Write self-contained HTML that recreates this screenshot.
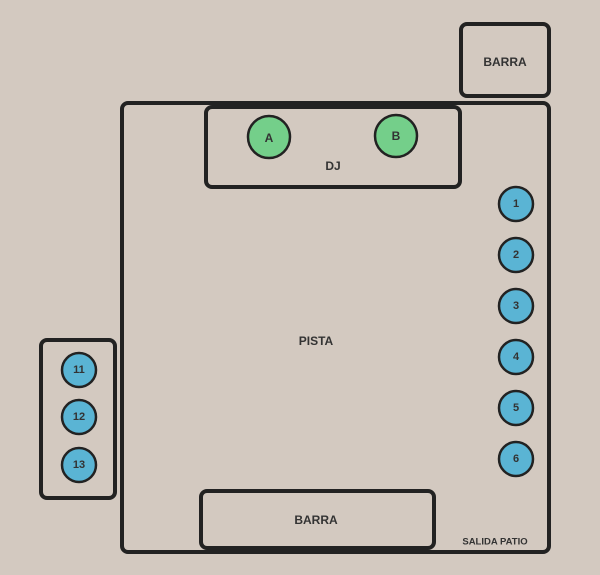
<!DOCTYPE html>
<html><head><meta charset="utf-8"><style>
html,body{margin:0;padding:0;background:#d3c9c0;}
svg{display:block}
text{font-family:"Liberation Sans",sans-serif;fill:#333;font-weight:bold;text-anchor:middle;dominant-baseline:central}
</style></head><body>
<svg width="600" height="575" viewBox="0 0 600 575">
<rect width="600" height="575" fill="#d3c9c0"/>
<g fill="none" stroke="#222" stroke-width="4">
<rect x="461" y="24" width="88" height="72" rx="6"/>
<rect x="122" y="103" width="427" height="449" rx="6"/>
<rect x="206" y="107" width="254" height="80" rx="6"/>
<rect x="41" y="340" width="74" height="158" rx="6"/>
<rect x="201" y="491" width="233" height="57" rx="6"/>
</g>
<g stroke="#222" stroke-width="2.5" fill="#74cf8a">
<circle cx="269" cy="137" r="21"/><circle cx="396" cy="136" r="21"/>
</g>
<g stroke="#222" stroke-width="2.5" fill="#5ab4d4">
<circle cx="516" cy="204" r="17"/><circle cx="516" cy="255" r="17"/><circle cx="516" cy="306" r="17"/>
<circle cx="516" cy="357" r="17"/><circle cx="516" cy="408" r="17"/><circle cx="516" cy="459" r="17"/>
<circle cx="79" cy="370" r="17"/><circle cx="79" cy="417" r="17"/><circle cx="79" cy="465" r="17"/>
</g>
<g font-size="12">
<text x="505" y="62">BARRA</text>
<text x="316" y="520">BARRA</text>
<text x="316" y="341">PISTA</text>
<text x="333" y="166">DJ</text>
<text x="269" y="138">A</text><text x="396" y="136">B</text>
</g>
<g font-size="11">
<text x="516" y="204">1</text><text x="516" y="255">2</text><text x="516" y="306">3</text>
<text x="516" y="357">4</text><text x="516" y="408">5</text><text x="516" y="459">6</text>
<text x="79" y="370">11</text><text x="79" y="417">12</text><text x="79" y="465">13</text>
</g>
<text x="495" y="542" font-size="9.5">SALIDA PATIO</text>
</svg>
</body></html>
